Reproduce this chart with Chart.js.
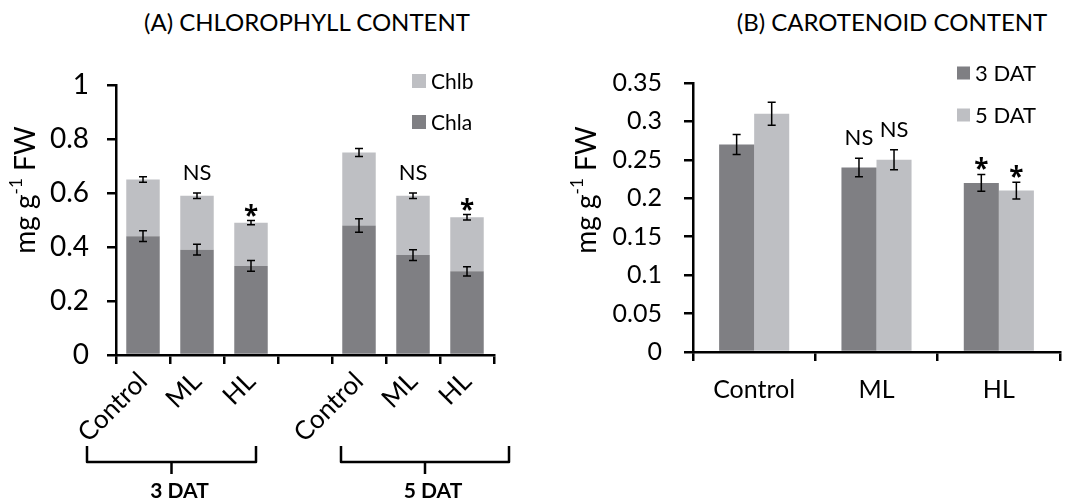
<!DOCTYPE html>
<html>
<head>
<meta charset="utf-8">
<script src="https://cdn.jsdelivr.net/npm/chart.js@4.4.1/dist/chart.umd.min.js"></script>
<style>
  body { margin: 0; background: #fff; width: 1069px; height: 502px; position: relative; overflow: hidden; font-family: Lato, sans-serif; }
  .title { position: absolute; top: 7px; font-size: 24px; color: #000; white-space: nowrap; transform: translateX(-50%); }
  #wrapA { position: absolute; left: 0; top: 0; width: 540px; height: 502px; }
  #wrapB { position: absolute; left: 540px; top: 0; width: 529px; height: 502px; }
</style>
</head>
<body>
<div class="title" style="left:307px">(A) CHLOROPHYLL CONTENT</div>
<div class="title" style="left:892px">(B) CAROTENOID CONTENT</div>
<div id="wrapA"><canvas id="chlChart"></canvas></div>
<div id="wrapB"><canvas id="carChart"></canvas></div>
<script>
// (A) chlorophyll, stacked; index 3 is the empty gap between the two days
const chlLabels = ["Control", "ML", "HL", "", "Control", "ML", "HL"];
const chla = [0.44, 0.39, 0.33, null, 0.48, 0.37, 0.31];
const chlb = [0.21, 0.20, 0.16, null, 0.27, 0.22, 0.20];
const chlaErr = [0.02, 0.02, 0.02, null, 0.025, 0.02, 0.017];
const chlbErr = [0.01, 0.01, 0.008, null, 0.015, 0.01, 0.01];
const chlMarks = ["", "NS", "*", "", "", "NS", "*"];
const chlGroups = [
  { label: "3 DAT", from: 0, to: 2 },
  { label: "5 DAT", from: 4, to: 6 },
];

// (B) carotenoids
const carLabels = ["Control", "ML", "HL"];
const car3 = [0.27, 0.24, 0.22];
const car5 = [0.31, 0.25, 0.21];
const car3Err = [0.013, 0.012, 0.011];
const car5Err = [0.015, 0.013, 0.011];
const car3Marks = ["", "NS", "*"];
const car5Marks = ["", "NS", "*"];

const DARK = "#7f7f83";
const LIGHT = "#bebfc3";
const FONT = "Lato";

// error bars + significance marks on top of each bar
const errorBars = {
  id: "errorBars",
  afterDatasetsDraw(chart) {
    const ctx = chart.ctx, y = chart.scales.y;
    chart.data.datasets.forEach((ds, di) => {
      const meta = chart.getDatasetMeta(di);
      meta.data.forEach((bar, i) => {
        const e = ds.err[i];
        if (e == null || ds.data[i] == null) return;
        const top = y.getValueForPixel(bar.y);
        const y1 = y.getPixelForValue(top + e), y2 = y.getPixelForValue(top - e);
        ctx.save();
        ctx.strokeStyle = "#000";
        ctx.lineWidth = 1.5;
        ctx.beginPath();
        ctx.moveTo(bar.x, y1); ctx.lineTo(bar.x, y2);
        ctx.moveTo(bar.x - 4, y1); ctx.lineTo(bar.x + 4, y1);
        ctx.moveTo(bar.x - 4, y2); ctx.lineTo(bar.x + 4, y2);
        ctx.stroke();
        const m = ds.marks && ds.marks[i];
        if (m) {
          ctx.fillStyle = "#000";
          ctx.textAlign = "center";
          ctx.textBaseline = "alphabetic";
          if (m === "*") {
            ctx.font = 'bold 26px "Open Sans"';
            ctx.fillText(m, bar.x, y1 + 4);
          } else {
            ctx.font = "22px " + FONT;
            ctx.fillText(m, bar.x, y1 - 13);
          }
        }
        ctx.restore();
      });
    });
  },
};

const boxLegend = {
  id: "boxLegend",
  afterDraw(chart, args, opts) {
    const ctx = chart.ctx;
    let items = chart.data.datasets.map(d => ({ label: d.label, color: d.backgroundColor }));
    if (opts.reverse) items.reverse();
    ctx.save();
    ctx.font = opts.size + "px " + FONT;
    ctx.textBaseline = "middle";
    items.forEach((it, k) => {
      const cy = opts.y + k * opts.rowGap;
      ctx.fillStyle = it.color;
      ctx.fillRect(opts.x, cy - opts.box / 2, opts.box, opts.box);
      ctx.fillStyle = "#000";
      ctx.fillText(it.label, opts.x + opts.box + 5, cy + 1);
    });
    ctx.restore();
  },
};

// "mg g-1 FW" with a real superscript
const yTitle = {
  id: "yTitle",
  afterDraw(chart, args, opts) {
    const ctx = chart.ctx;
    ctx.save();
    ctx.translate(opts.x, opts.y);
    ctx.rotate(-Math.PI / 2);
    ctx.fillStyle = "#000";
    ctx.textBaseline = "middle";
    const big = opts.size + "px " + FONT, small = Math.round(opts.size * 0.6) + "px " + FONT;
    const parts = [["mg g", big, 0], ["-1", small, -opts.size * 0.35], [" FW", big, 0]];
    let w = 0;
    parts.forEach(p => { ctx.font = p[1]; p.w = ctx.measureText(p[0]).width; w += p.w; });
    let x = -w / 2;
    parts.forEach(p => { ctx.font = p[1]; ctx.fillText(p[0], x, p[2]); x += p.w; });
    ctx.restore();
  },
};

const groupBrackets = {
  id: "groupBrackets",
  afterDraw(chart, args, opts) {
    const ctx = chart.ctx, xs = chart.scales.x;
    ctx.save();
    ctx.strokeStyle = "#000";
    ctx.fillStyle = "#000";
    ctx.lineWidth = 2.5;
    ctx.lineJoin = "round";
    ctx.font = "bold 21px " + FONT;
    ctx.textAlign = "center";
    ctx.textBaseline = "middle";
    opts.groups.forEach((g, k) => {
      const x0 = xs.getPixelForValue(g.from) + opts.pads[k][0];
      const x1 = xs.getPixelForValue(g.to) + opts.pads[k][1];
      const mid = (x0 + x1) / 2;
      ctx.beginPath();
      ctx.moveTo(x0, opts.top); ctx.lineTo(x0, opts.line); ctx.lineTo(x1, opts.line); ctx.lineTo(x1, opts.top);
      ctx.moveTo(mid, opts.line); ctx.lineTo(mid, opts.line + 12);
      ctx.stroke();
      ctx.fillText(g.label, mid + 8, opts.text);
    });
    ctx.restore();
  },
};

function axisStyle() {
  return {
    grid: { drawOnChartArea: false, color: "#000", lineWidth: 2.5, tickLength: 9 },
    border: { color: "#000", width: 2.5 },
  };
}

new Chart(document.getElementById("chlChart"), {
  type: "bar",
  data: {
    labels: chlLabels,
    datasets: [
      { label: "Chla", data: chla, err: chlaErr, backgroundColor: DARK },
      { label: "Chlb", data: chlb, err: chlbErr, marks: chlMarks, backgroundColor: LIGHT },
    ],
  },
  options: {
    responsive: true,
    maintainAspectRatio: false,
    animation: false,
    datasets: { bar: { categoryPercentage: 1, barPercentage: 0.62 } },
    layout: { padding: { left: 16, right: 46, top: 85, bottom: 0 } },
    plugins: {
      legend: { display: false },
      tooltip: { enabled: false },
      boxLegend: { x: 412, y: 81, rowGap: 41, box: 14, size: 21, reverse: true },
      yTitle: { x: 26, y: 190, size: 28 },
      groupBrackets: { groups: chlGroups, pads: [[-56, 5], [-18, 42]], top: 446, line: 462, text: 491 },
    },
    scales: {
      x: {
        stacked: true,
        ...axisStyle(),
        grid: { ...axisStyle().grid, offset: true },
        ticks: { color: "#000", font: { family: FONT, size: 26 }, minRotation: 45, maxRotation: 45, padding: 2 },
        afterFit: s => { s.height = 147; },
      },
      y: {
        stacked: true,
        min: 0,
        max: 1,
        ...axisStyle(),
        ticks: { stepSize: 0.2, color: "#000", font: { family: FONT, size: 28 }, padding: 18, callback: v => String(+v.toFixed(2)) },
        afterFit: s => { s.width = 100; },
      },
    },
  },
  plugins: [errorBars, boxLegend, yTitle, groupBrackets],
});

new Chart(document.getElementById("carChart"), {
  type: "bar",
  data: {
    labels: carLabels,
    datasets: [
      { label: "3 DAT", data: car3, err: car3Err, marks: car3Marks, backgroundColor: DARK },
      { label: "5 DAT", data: car5, err: car5Err, marks: car5Marks, backgroundColor: LIGHT },
    ],
  },
  options: {
    responsive: true,
    maintainAspectRatio: false,
    animation: false,
    datasets: { bar: { categoryPercentage: 0.573, barPercentage: 1 } },
    layout: { padding: { left: 23, right: 9, top: 83, bottom: 0 } },
    plugins: {
      legend: { display: false },
      tooltip: { enabled: false },
      boxLegend: { x: 417, y: 73, rowGap: 42, box: 13, size: 22 },
      yTitle: { x: 47, y: 190, size: 28 },
    },
    scales: {
      x: {
        ...axisStyle(),
        grid: { ...axisStyle().grid, offset: true },
        ticks: { color: "#000", font: { family: FONT, size: 25 }, padding: 14 },
        afterFit: s => { s.height = 150; },
      },
      y: {
        min: 0,
        max: 0.35,
        ...axisStyle(),
        ticks: { stepSize: 0.05, color: "#000", font: { family: FONT, size: 25 }, padding: 22, callback: v => String(+v.toFixed(2)) },
        afterFit: s => { s.width = 130; },
      },
    },
  },
  plugins: [errorBars, boxLegend, yTitle],
});
</script>
</body>
</html>
